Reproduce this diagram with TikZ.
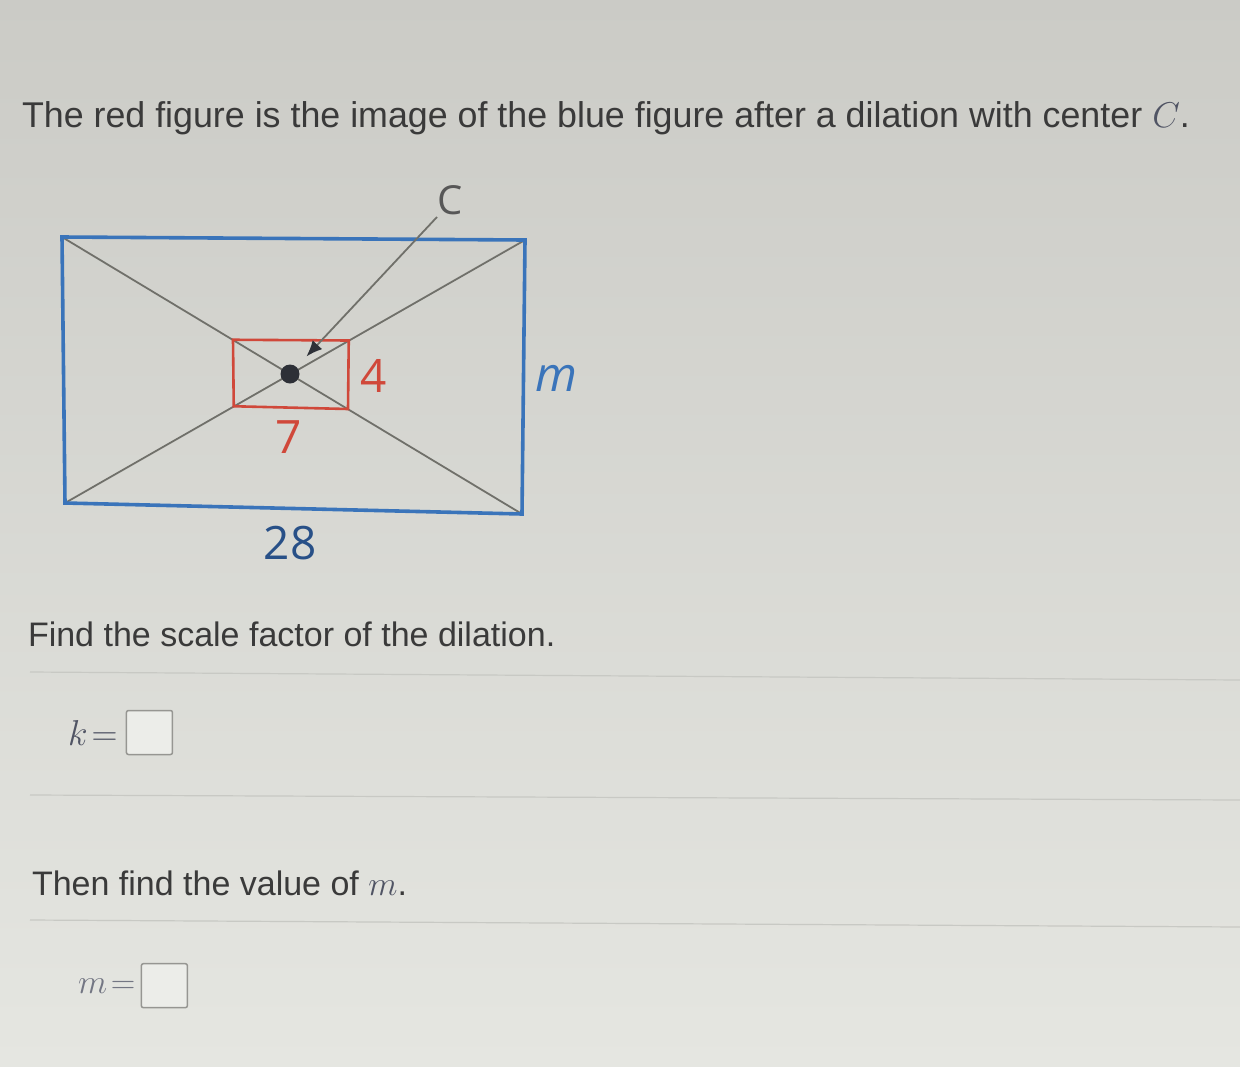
\documentclass[tikz,border=0pt]{standalone}
\usepackage{fix-cm}
\usepackage{fontspec}
\setmainfont{Liberation Sans}
\newfontfamily\labelfont{Open Sans}
\usetikzlibrary{calc, positioning}
\usetikzlibrary{arrows.meta}

\definecolor{bgtop}{RGB}{203,203,198}
\definecolor{bgbot}{RGB}{229,230,225}
\definecolor{figblue}{RGB}{58,116,186}
\definecolor{labelblue}{RGB}{40,80,135}
\definecolor{figred}{RGB}{208,72,58}
\definecolor{raygray}{RGB}{112,112,106}
\definecolor{tipdark}{RGB}{45,48,55}
\definecolor{txtgray}{RGB}{58,58,58}
\definecolor{mathgray}{RGB}{80,84,100}
\definecolor{boxgray}{RGB}{150,150,146}
\definecolor{boxfill}{RGB}{236,237,233}
\definecolor{rulegray}{RGB}{200,201,196}

\begin{document}
\begin{tikzpicture}[
    x=1pt, y=-1pt,
    every node/.style={inner sep=0pt, outer sep=0pt},
    bluefig/.style={draw=figblue, line width=3.6pt, line join=miter},
    redfig/.style={draw=figred, line width=2.6pt},
    ray/.style={draw=raygray, line width=1.8pt},
    lbl/.style={font=\labelfont\fontsize{46}{50}\selectfont},
    prompt/.style={anchor=base west, text=txtgray, font=\fontsize{34}{40}\selectfont},
    ansbox/.style={draw=boxgray, line width=1.5pt, fill=boxfill, rounded corners=2pt, minimum width=46pt, minimum height=44pt},
    rule/.style={draw=rulegray, line width=1.2pt}
  ]
  % page and panel lines
  \shade[top color=bgtop, bottom color=bgbot] (0,0) rectangle (1240,1066);
  \useasboundingbox (0,0) rectangle (1240,1066);
  \draw[rule] (30,672) -- (1240,680);
  \draw[rule] (30,795) -- (1240,800);
  \draw[rule] (30,920) -- (1240,927);

  % question text
  \node[prompt, font=\fontsize{35.8}{40}\selectfont] (title) at (22,127)
    {The red figure is the image of the blue figure after a dilation with center \textcolor{mathgray}{$C$}.};

  % blue figure and its diagonals
  \coordinate (bTL) at (62,237);
  \coordinate (bTR) at (525,240);
  \coordinate (bBR) at (522,514);
  \coordinate (bBL) at (65,503);
  \coordinate (ctr) at (290,374);
  \draw[ray] (bTL) -- (bBR);
  \draw[ray] (bTR) -- (bBL);
  \draw[bluefig] (bTL) -- (bTR) -- (bBR) -- (bBL) -- cycle;

  % red image, scale 1/4
  \coordinate (rTL) at ($(ctr)!0.25!(bTL)$);
  \coordinate (rTR) at ($(ctr)!0.25!(bTR)$);
  \coordinate (rBR) at ($(ctr)!0.25!(bBR)$);
  \coordinate (rBL) at ($(ctr)!0.25!(bBL)$);
  \draw[redfig] (rTL) -- (rTR) -- (rBR) -- (rBL) -- cycle;

  % center and ray from C
  \node[circle, fill=tipdark, minimum size=19pt] (cdot) at (ctr) {};
  \coordinate (Cfoot) at (437,217);
  \draw[ray, -{Latex[length=16pt, width=13pt, color=tipdark]}] (Cfoot) -- ($(ctr)!24pt!(Cfoot)$);
  \node[lbl, text=txtgray!85, font=\labelfont\fontsize{40}{44}\selectfont] (Clbl) at (450,200) {C};

  % side labels
  \node[lbl, text=figred] (hred) at (374,376) {4};
  \node[lbl, text=figred] (wred) at (289,437) {7};
  \node[lbl, text=labelblue] (wblue) at (290,543) {28};
  \node[lbl, text=figblue, font=\labelfont\itshape\fontsize{48}{52}\selectfont] (hblue) at (556,378) {m};

  % answer prompts
  \node[prompt] (ask1) at (28,646) {Find the scale factor of the dilation.};
  \node[anchor=base west, text=mathgray, font=\fontsize{36}{40}\selectfont] (keq) at (68,745) {$k\!=$};
  \node[ansbox, right=9pt of keq] (kbox) {};
  \node[prompt] (ask2) at (32,895) {Then find the value of \textcolor{mathgray}{$m$}.};
  \node[anchor=base west, text=mathgray!80, font=\fontsize{34}{40}\selectfont] (meq) at (78,993) {$m\!=$};
  \node[ansbox, right=6pt of meq] (mbox) {};
\end{tikzpicture}
\end{document}
